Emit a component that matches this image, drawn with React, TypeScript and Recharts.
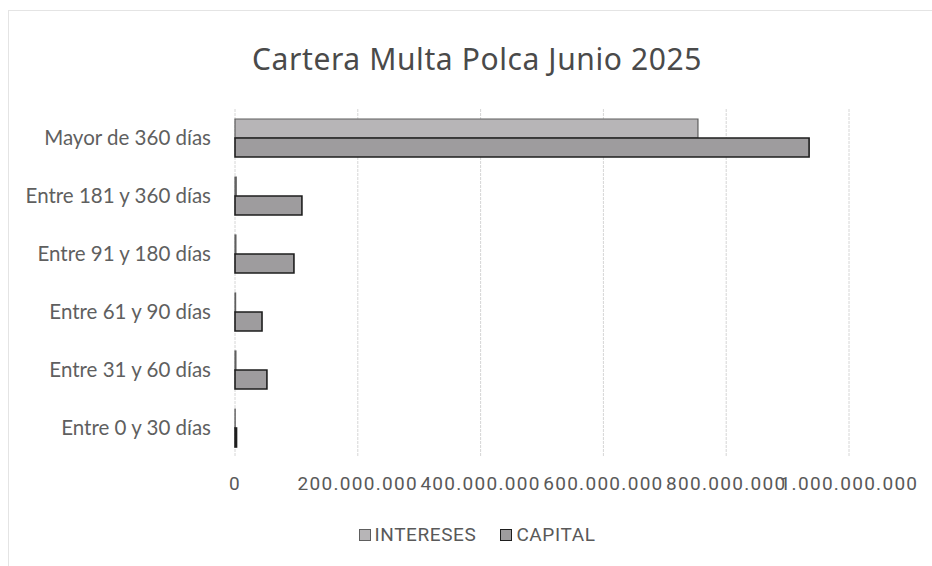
import { BarChart, Bar, XAxis, YAxis, CartesianGrid } from 'recharts';

// Categories top to bottom, as they appear in the chart
const CATEGORIAS = [
  'Mayor de 360 días',
  'Entre 181 y 360 días',
  'Entre 91 y 180 días',
  'Entre 61 y 90 días',
  'Entre 31 y 60 días',
  'Entre 0 y 30 días',
];
const INTERESES = [754000000, 2000000, 1500000, 1000000, 1500000, 300000];
const CAPITAL = [935000000, 109000000, 96000000, 44000000, 52000000, 2500000];
const X_TICKS = [0, 200000000, 400000000, 600000000, 800000000, 1000000000];

const INT_FILL = '#b7b5b7';
const INT_STROKE = '#5e5e5e';
const CAP_FILL = '#9e9c9e';
const CAP_STROKE = '#1e1e1e';

const data = CATEGORIAS.map((c, i) => ({
  name: c,
  intereses: INTERESES[i],
  capital: CAPITAL[i],
}));

// 200000000 -> 200.000.000
const fmt = (v: number) => String(Math.round(v)).replace(/\B(?=(\d{3})+(?!\d))/g, '.');

function LegendBox() {
  const item = (label: string, fill: string, stroke: string, ml: number) => (
    <span style={{ display: 'inline-flex', alignItems: 'center', marginLeft: ml }}>
      <span
        style={{
          width: 12, height: 12, background: fill, border: `1.5px solid ${stroke}`,
          display: 'inline-block', marginRight: 4, boxSizing: 'border-box',
        }}
      />
      <span>{label}</span>
    </span>
  );
  return (
    <div
      style={{
        position: 'absolute', left: 0, top: 523, width: 954,
        fontFamily: 'Roboto, sans-serif', fontSize: 19, letterSpacing: 0.6,
        color: '#595959', display: 'flex', justifyContent: 'center',
      }}
    >
      {item('INTERESES', INT_FILL, INT_STROKE, 0)}
      {item('CAPITAL', CAP_FILL, CAP_STROKE, 24)}
    </div>
  );
}

export default function App() {
  return (
    <div
      style={{
        position: 'absolute', left: 0, top: 0, width: 932, height: 566,
        background: '#fff', overflow: 'hidden',
      }}
    >
      <div
        style={{
          position: 'absolute', left: 8, top: 10, width: 930, height: 560,
          border: '1px solid #e4e4e4', boxSizing: 'border-box',
        }}
      />
      <div
        style={{
          position: 'absolute', left: 0, top: 38, width: 954, textAlign: 'center',
          fontFamily: '"Noto Sans", sans-serif', fontSize: 30, letterSpacing: 0.6,
          color: '#4a4a4a',
        }}
      >
        Cartera Multa Polca Junio 2025
      </div>
      <BarChart
        width={932}
        height={566}
        data={data}
        layout="vertical"
        margin={{ top: 109, right: 83, bottom: 0, left: 0 }}
        barGap={0}
        barSize={19}
        style={{ position: 'absolute', left: 0, top: 0 }}
      >
        <CartesianGrid horizontal={false} stroke="#d6d6d6" strokeDasharray="3 1" />
        <XAxis
          type="number"
          domain={[0, 1000000000]}
          ticks={X_TICKS}
          tickFormatter={fmt}
          axisLine={false}
          tickLine={false}
          tickMargin={14}
          height={109}
          interval={0}
          tick={{ fill: '#595959', fontSize: 19, fontFamily: 'Roboto, sans-serif', letterSpacing: 1.3 }}
        />
        <YAxis
          type="category"
          dataKey="name"
          width={235}
          axisLine={false}
          tickLine={false}
          tickMargin={18}
          interval={0}
          tick={{ fill: '#5f5f5f', fontSize: 20.5, fontFamily: 'Lato, sans-serif' }}
        />
        <Bar
          dataKey="intereses"
          name="INTERESES"
          fill={INT_FILL}
          stroke={INT_STROKE}
          strokeWidth={1.2}
          isAnimationActive={false}
        />
        <Bar
          dataKey="capital"
          name="CAPITAL"
          fill={CAP_FILL}
          stroke={CAP_STROKE}
          strokeWidth={1.6}
          isAnimationActive={false}
        />
      </BarChart>
      <LegendBox />
    </div>
  );
}
